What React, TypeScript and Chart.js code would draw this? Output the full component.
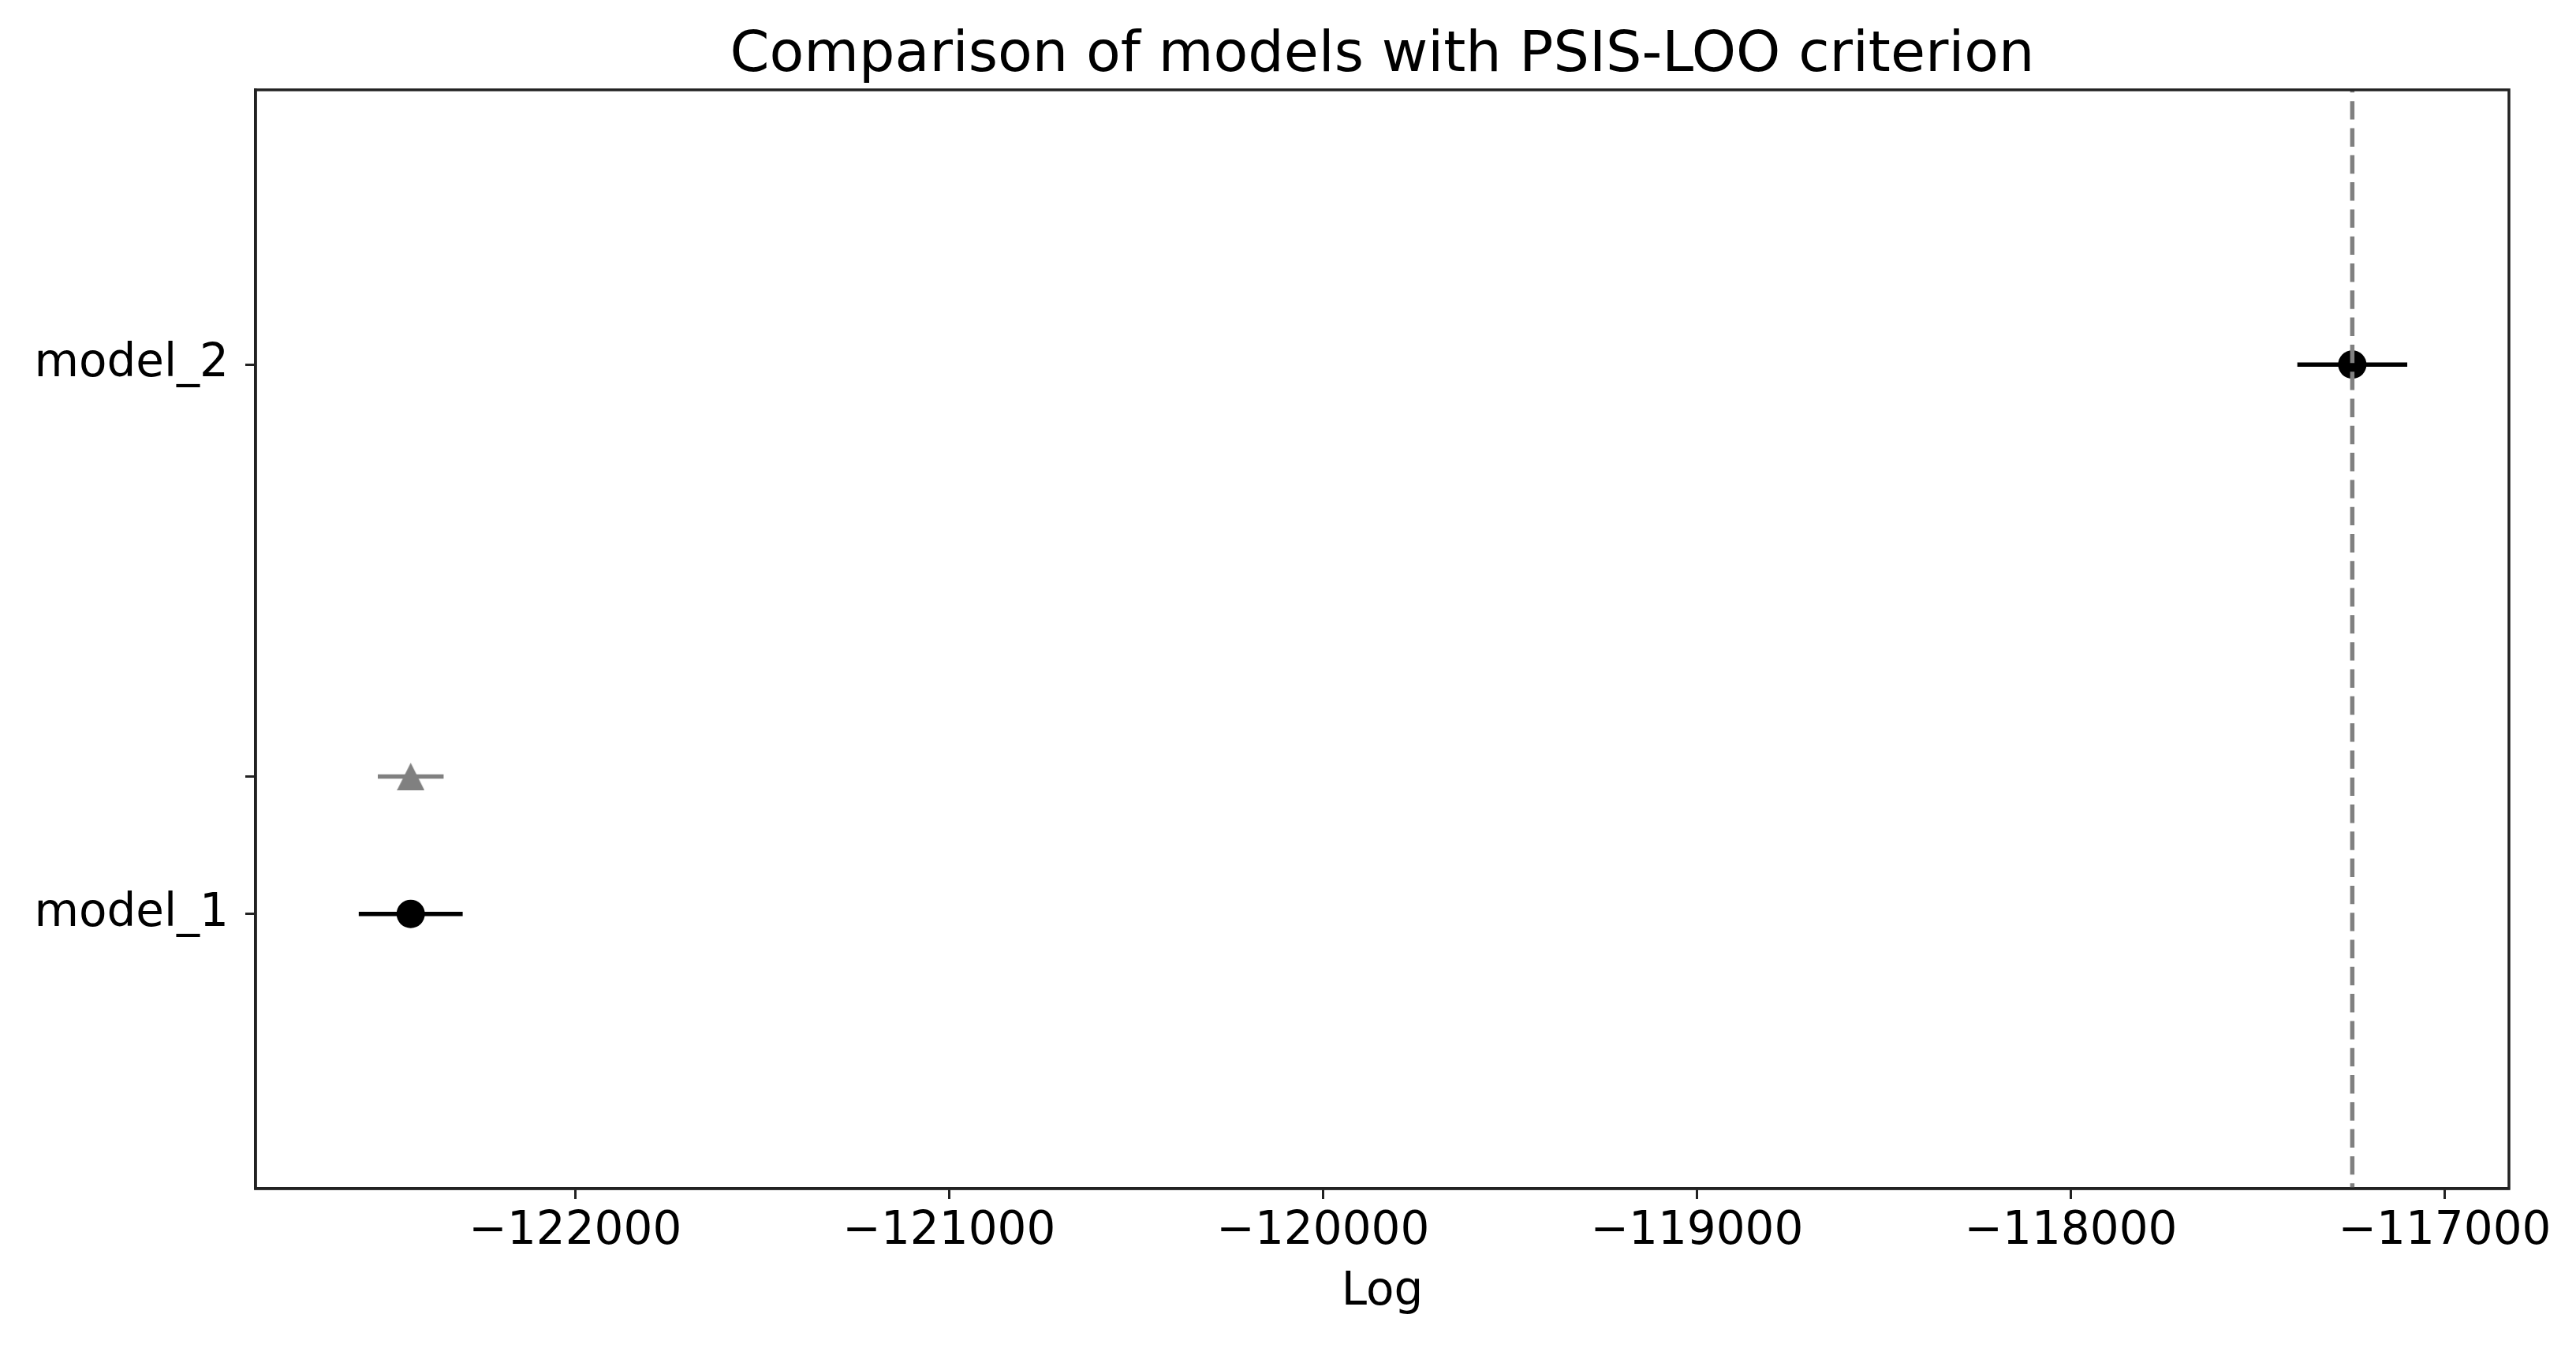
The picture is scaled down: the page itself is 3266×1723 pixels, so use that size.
import React, { useEffect, useRef } from 'react';
import { Chart, registerables } from 'chart.js';

Chart.register(...registerables);

// ---- data ----
const models = ['model_1', 'model_2'];
const modelPos = [0, 1];
const elpdLoo = [-122440, -117247];
const elpdSe = [139, 147];
const dsePos = [0.25];
const dseElpd = [-122440];
const dseValues = [88];
const bestElpd = -117247;
const xTicks = [-122000, -121000, -120000, -119000, -118000, -117000];
const yTicks = [0, 0.25, 1];
const yTickLabels = ['model_1', '', 'model_2'];
const xMin = -122855;
const xMax = -116828;
const yMin = -0.5;
const yMax = 1.5;
const titleText = 'Comparison of models with PSIS-LOO criterion';
const xLabel = 'Log';

const FONT = 'DejaVu Sans';
const W = 3266;
const H = 1723;

function fmt(v: number): string {
  return (v < 0 ? '\u2212' : '') + String(Math.abs(v));
}

export default function App() {
  const ref = useRef<HTMLCanvasElement | null>(null);

  useEffect(() => {
    const canvas = ref.current;
    if (!canvas) return;

    // triangle marker (matplotlib '^': width == height)
    const tri = document.createElement('canvas');
    tri.width = 35;
    tri.height = 35;
    const tctx = tri.getContext('2d')!;
    tctx.fillStyle = '#808080';
    tctx.beginPath();
    tctx.moveTo(17.5, 0);
    tctx.lineTo(35, 35);
    tctx.lineTo(0, 35);
    tctx.closePath();
    tctx.fill();

    const errSets = [
      { vals: elpdSe, color: '#000000' },
      { vals: dseValues, color: '#808080' },
    ];

    const errorBars = {
      id: 'errorBars',
      beforeDatasetsDraw(chart: any) {
        const ctx = chart.ctx;
        const xs = chart.scales.x;
        const ys = chart.scales.y;
        chart.data.datasets.forEach((ds: any, di: number) => {
          const es = errSets[di];
          ds.data.forEach((p: any, i: number) => {
            const e = es.vals[i];
            const y = ys.getPixelForValue(p.y);
            ctx.save();
            ctx.strokeStyle = es.color;
            ctx.lineWidth = 5.5;
            ctx.lineCap = 'butt';
            ctx.beginPath();
            ctx.moveTo(xs.getPixelForValue(p.x - e), y);
            ctx.lineTo(xs.getPixelForValue(p.x + e), y);
            ctx.stroke();
            ctx.restore();
          });
        });
      },
      afterDatasetsDraw(chart: any) {
        const ctx = chart.ctx;
        const xs = chart.scales.x;
        const a = chart.chartArea;
        const x = xs.getPixelForValue(bestElpd);
        ctx.save();
        ctx.strokeStyle = '#808080';
        ctx.lineWidth = 5.5;
        ctx.setLineDash([23.4, 10.9]);
        ctx.lineDashOffset = 20;
        ctx.beginPath();
        ctx.moveTo(x, a.top);
        ctx.lineTo(x, a.bottom);
        ctx.stroke();
        ctx.restore();
      },
      afterDraw(chart: any) {
        const ctx = chart.ctx;
        const a = chart.chartArea;
        ctx.save();
        ctx.strokeStyle = '#222222';
        ctx.lineWidth = 3.5;
        ctx.strokeRect(a.left, a.top, a.right - a.left, a.bottom - a.top);
        ctx.restore();
      },
    };

    const chart = new Chart(canvas, {
      type: 'scatter',
      data: {
        datasets: [
          {
            label: 'elpd_loo',
            data: models.map((_, i) => ({ x: elpdLoo[i], y: modelPos[i] })),
            pointRadius: 18,
            pointHoverRadius: 18,
            pointBackgroundColor: '#000000',
            pointBorderWidth: 0,
            showLine: false,
          },
          {
            label: 'dse',
            data: dsePos.map((y, i) => ({ x: dseElpd[i], y })),
            pointStyle: tri as any,
            pointRadius: 17.5,
            pointBackgroundColor: '#808080',
            pointBorderWidth: 0,
            showLine: false,
          },
        ],
      },
      options: {
        responsive: false,
        devicePixelRatio: 1,
        animation: false,
        events: [],
        layout: { padding: { left: 0, right: 85, top: 0, bottom: 0 } },
        plugins: {
          legend: { display: false },
          tooltip: { enabled: false },
          title: {
            display: true,
            text: titleText,
            fullSize: false,
            color: '#000000',
            font: { family: FONT, size: 71.6, weight: 'normal', lineHeight: 1.2 },
            padding: { top: 28, bottom: 0 },
          },
        },
        scales: {
          x: {
            type: 'linear',
            min: xMin,
            max: xMax,
            afterBuildTicks: (s: any) => {
              s.ticks = xTicks.map((v) => ({ value: v }));
            },
            afterFit: (s: any) => {
              s.height = H - 1507;
            },
            ticks: {
              color: '#000000',
              font: { family: FONT, size: 58, lineHeight: 1.2 },
              padding: 7,
              maxRotation: 0,
              autoSkip: false,
              callback: (v: any) => fmt(Number(v)),
            },
            grid: {
              drawOnChartArea: false,
              drawTicks: true,
              tickLength: 13,
              tickWidth: 3,
              tickColor: '#222222',
            },
            border: { display: true, color: '#222222', width: 3.5 },
            title: {
              display: true,
              text: xLabel,
              color: '#000000',
              font: { family: FONT, size: 58, lineHeight: 1.2 },
              padding: { top: 0, bottom: 49 },
            },
          },
          y: {
            type: 'linear',
            min: yMin,
            max: yMax,
            afterBuildTicks: (s: any) => {
              s.ticks = yTicks.map((v) => ({ value: v }));
            },
            afterFit: (s: any) => {
              s.width = 324;
            },
            ticks: {
              color: '#000000',
              font: { family: FONT, size: 58, lineHeight: 1.2 },
              padding: 21,
              autoSkip: false,
              callback: (v: any) => {
                const i = yTicks.indexOf(Number(v));
                return i >= 0 ? yTickLabels[i] : '';
              },
            },
            grid: {
              drawOnChartArea: false,
              drawTicks: true,
              tickLength: 13,
              tickWidth: 3,
              tickColor: '#222222',
            },
            border: { display: true, color: '#222222', width: 3.5 },
          },
        },
      },
      plugins: [errorBars],
    } as any);

    return () => {
      chart.destroy();
    };
  }, []);

  return (
    <div style={{ position: 'fixed', left: 0, top: 0, width: W, height: H, background: '#ffffff' }}>
      <canvas ref={ref} width={W} height={H} style={{ display: 'block' }} />
    </div>
  );
}
